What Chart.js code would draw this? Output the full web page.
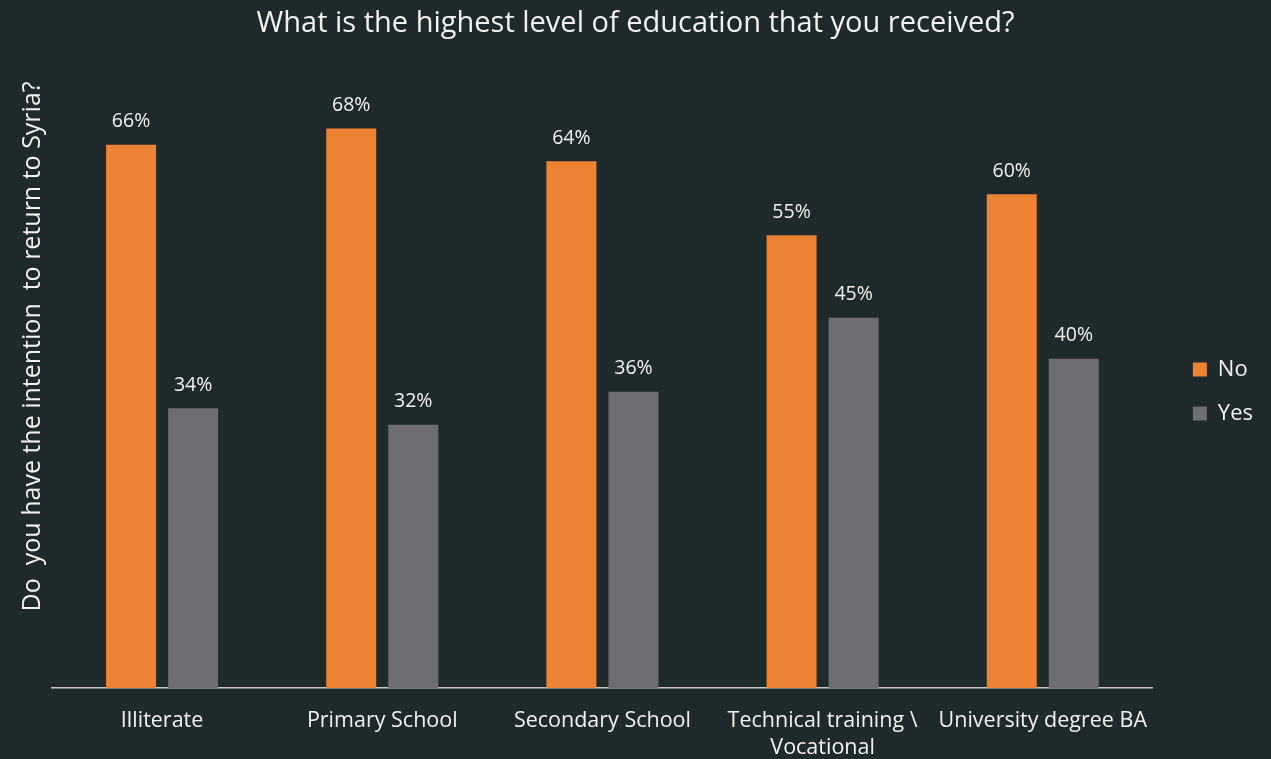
<!DOCTYPE html>
<html>
<head>
<meta charset="utf-8">
<script src="https://cdn.jsdelivr.net/npm/chart.js@4"></script>
<style>
  html, body { margin: 0; padding: 0; background: #1e2a2b; }
  #wrap { width: 1271px; height: 759px; }
</style>
</head>
<body>
<div id="wrap"><canvas id="c" width="1271" height="759"></canvas></div>
<script>
const categories = ['Illiterate', 'Primary School', 'Secondary School', ['Technical training \\', 'Vocational'], 'University degree BA'];
const noValues = [66, 68, 64, 55, 60];
const yesValues = [34, 32, 36, 45, 40];
const seriesNames = ['No', 'Yes'];
const chartTitle = 'What is the highest level of education that you received?';
const yAxisTitle = 'Do  you have the intention  to return to Syria?';

const FONT = '"Open Sans", "DejaVu Sans", sans-serif';
const TEXT = '#f2f2f2';

const valueLabels = {
  id: 'valueLabels',
  afterDatasetsDraw(chart) {
    const ctx = chart.ctx;
    ctx.save();
    ctx.fillStyle = TEXT;
    ctx.font = '19.5px ' + FONT;
    ctx.textAlign = 'center';
    ctx.textBaseline = 'middle';
    chart.data.datasets.forEach((ds, i) => {
      chart.getDatasetMeta(i).data.forEach((bar, j) => {
        ctx.fillText(ds.data[j] + '%', bar.x, bar.y - 23);
      });
    });
    ctx.restore();
  }
};

// rotated y-axis title, drawn a little above the plot-area centre as in the reference
const yTitle = {
  id: 'yTitle',
  afterDraw(chart) {
    const ctx = chart.ctx;
    const a = chart.chartArea;
    ctx.save();
    ctx.translate(a.left - 19, (a.top + a.bottom) / 2 - 19);
    ctx.rotate(-Math.PI / 2);
    ctx.fillStyle = TEXT;
    ctx.font = '25px ' + FONT;
    ctx.textAlign = 'center';
    ctx.textBaseline = 'middle';
    ctx.fillText(yAxisTitle, 0, 0);
    ctx.restore();
  }
};

const boxShift = {
  id: 'boxShift',
  afterLayout(chart) {
    const l = chart.legend;
    l.left += 18; l.right += 18; l.top += 12; l.bottom += 12;
    const t = chart.titleBlock;
    if (t) { t.left += 6; t.right += 6; t.top += 2; t.bottom += 2; }
  }
};

new Chart(document.getElementById('c'), {
  type: 'bar',
  data: {
    labels: categories,
    datasets: [
      { label: seriesNames[0], data: noValues, backgroundColor: '#ec8232', categoryPercentage: 0.5636, barPercentage: 0.806 },
      { label: seriesNames[1], data: yesValues, backgroundColor: '#6e6e72', categoryPercentage: 0.5636, barPercentage: 0.806 }
    ]
  },
  options: {
    responsive: false,
    animation: false,
    layout: { padding: { left: 14, right: 26, top: 0, bottom: 0 } },
    plugins: {
      title: {
        display: true, text: chartTitle, color: TEXT,
        font: { family: FONT, size: 29, weight: 'normal', lineHeight: 1.2 },
        padding: { top: 4, bottom: 4 }
      },
      legend: {
        position: 'right',
        labels: {
          color: TEXT, boxWidth: 14, boxHeight: 14, padding: 22,
          font: { family: FONT, size: 22 }
        }
      },
      tooltip: { enabled: false }
    },
    scales: {
      x: {
        grid: { display: false },
        border: { color: '#c8c8c8', width: 1.5 },
        ticks: { color: TEXT, padding: 11, font: { family: FONT, size: 21.5, lineHeight: 1.28 }, maxRotation: 0 },
        afterFit(scale) { scale.height = 71; }
      },
      y: {
        min: 0, max: 78.4,
        grid: { display: false },
        border: { display: false },
        ticks: { display: false },
        afterFit(scale) { scale.width = 38; }
      }
    }
  },
  plugins: [valueLabels, yTitle, boxShift]
});
</script>
</body>
</html>
